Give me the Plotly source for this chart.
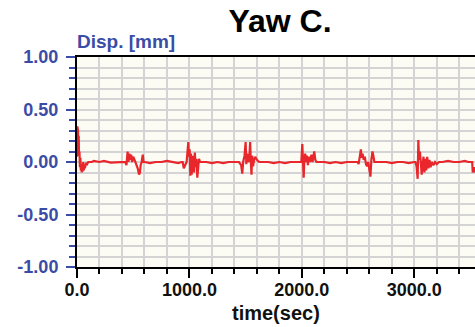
import plotly.graph_objects as go

# time (sec) and displacement (mm)
t = [0, 3, 6, 9, 12, 15, 18, 22, 26, 30, 34, 38, 42, 46, 50, 55, 60, 65, 70, 80, 90, 100, 130, 150,
     200, 240, 300, 360, 420,
     430, 440, 450, 458, 466, 474, 482, 490, 500, 512, 525, 540, 552, 560, 566, 575, 585, 592, 600,
     650, 700, 750, 800, 850, 900, 930,
     940, 950, 960, 975, 990, 996, 1002, 1008, 1014, 1020, 1026, 1032, 1040, 1048, 1055, 1062, 1070, 1078, 1085, 1095,
     1150, 1200, 1250, 1300, 1350, 1400,
     1440, 1460, 1470, 1478, 1490, 1500, 1506, 1514, 1522, 1532, 1540, 1546, 1552, 1558, 1566, 1575, 1585, 1600, 1620,
     1700, 1750, 1800, 1850, 1900, 1950, 1990,
     1995, 2004, 2010, 2016, 2022, 2030, 2038, 2046, 2054, 2062, 2072, 2085, 2095, 2110, 2120, 2130, 2145,
     2200, 2250, 2300, 2350, 2400, 2450, 2490,
     2495, 2505, 2515, 2525, 2532, 2540, 2550, 2560, 2570, 2580, 2590, 2600, 2610, 2618, 2628, 2636, 2645, 2660,
     2700, 2750, 2800, 2850, 2900, 2950, 3000,
     3010, 3020, 3030, 3036, 3042, 3050, 3058, 3066, 3074, 3082, 3090, 3098, 3106, 3115, 3125, 3135, 3145, 3155, 3170, 3185, 3200, 3220, 3250,
     3300, 3350, 3400, 3450, 3480, 3515, 3520, 3530, 3540]
disp = [0.05, 0.34, 0.22, 0.30, 0.12, 0.25, 0.06, 0.10, -0.05, 0.04, -0.08, -0.02, -0.10, -0.04, -0.09, 0.0, -0.08, -0.03, -0.06, -0.01, -0.02, 0.0, 0.0, 0.01,
        0.0, 0.01, -0.005, 0.0, 0.0,
        0.0, -0.03, 0.10, 0.0, 0.08, 0.02, 0.07, 0.0, 0.05, 0.02, -0.02, -0.06, -0.12, -0.10, -0.03, 0.0, 0.07, 0.0, 0.0,
        -0.01, 0.0, 0.0, 0.01, 0.0, -0.01, 0.0,
        0.0, -0.06, -0.03, 0.0, 0.19, 0.05, 0.12, -0.13, 0.08, -0.12, 0.02, 0.06, -0.10, 0.09, -0.05, 0.03, -0.15, -0.04, 0.03, 0.0,
        0.0, -0.01, 0.0, -0.01, 0.0, 0.0,
        0.0, -0.03, -0.11, 0.0, 0.06, 0.19, -0.02, 0.08, 0.0, 0.02, 0.19, 0.0, -0.12, 0.06, -0.04, 0.02, 0.05, 0.02, 0.0,
        0.0, -0.01, 0.0, -0.01, 0.0, 0.0, 0.0,
        0.0, 0.17, 0.0, -0.15, 0.02, 0.08, 0.0, 0.06, -0.03, 0.05, 0.0, 0.07, 0.0, 0.10, 0.02, 0.0, 0.0,
        0.0, -0.01, 0.0, -0.01, 0.0, 0.0, 0.0,
        0.0, -0.02, 0.06, 0.12, 0.04, 0.08, 0.02, 0.05, -0.02, -0.04, 0.0, -0.06, -0.14, 0.02, 0.10, 0.06, 0.0, 0.0,
        0.0, 0.0, -0.01, 0.0, 0.0, -0.01, 0.0,
        0.0, -0.04, -0.16, 0.21, 0.02, 0.10, -0.05, -0.12, -0.02, 0.05, -0.10, 0.03, -0.08, 0.05, -0.06, 0.02, -0.05, 0.0, -0.03, 0.0, -0.02, 0.0, 0.0,
        0.01, 0.0, 0.0, 0.01, 0.0, 0.0, -0.10, -0.05, -0.10]

x_ticks = [0, 1000, 2000, 3000]
x_labels = ["0.0", "1000.0", "2000.0", "3000.0"]
y_ticks = [-1.0, -0.5, 0.0, 0.5, 1.0]
y_labels = ["-1.00", "-0.50", "0.00", "0.50", "1.00"]

BLUE = "#3a4ca6"
GRID = "#d4d4d4"
FONT = "Liberation Sans, Arial, sans-serif"

fig = go.Figure()
fig.add_trace(go.Scatter(x=t, y=disp, mode="lines",
                         line=dict(color="#e8262b", width=2.2), showlegend=False))

fig.update_layout(
    width=475, height=327,
    margin=dict(l=77, r=0, t=57, b=60, autoexpand=False),
    paper_bgcolor="white", plot_bgcolor="#fcfcf4",
    font=dict(family=FONT),
    title=dict(text="<b>Yaw C.</b>", x=280/475, xanchor="center", xref="container",
               y=1 - 21/327, yanchor="middle", yref="container",
               font=dict(size=32, color="black", family=FONT)),
)
fig.update_xaxes(
    range=[0, 3540], tickvals=x_ticks, ticktext=x_labels, automargin=False,
    showline=True, linecolor="black", linewidth=2, mirror=True,
    ticks="outside", ticklen=9, tickwidth=2, tickcolor="black",
    tickfont=dict(size=18, color="#111111", family=FONT, weight="bold"),
    showgrid=True, gridcolor=GRID, gridwidth=2, zeroline=False,
    minor=dict(dtick=200, tick0=0, ticks="outside", ticklen=5, tickwidth=2,
               tickcolor="black", showgrid=True, gridcolor=GRID, gridwidth=2),
    ticklabelstandoff=-4,
)
fig.update_yaxes(
    range=[-1, 1], tickvals=y_ticks, ticktext=y_labels, automargin=False,
    showline=True, linecolor="black", linewidth=2,
    ticks="outside", ticklen=9, tickwidth=2, tickcolor=BLUE,
    tickfont=dict(size=18, color=BLUE, family=FONT, weight="bold"),
    showgrid=True, gridcolor=GRID, gridwidth=2, zeroline=False,
    minor=dict(dtick=0.1, tick0=0, ticks="outside", ticklen=6, tickwidth=2,
               tickcolor=BLUE, showgrid=True, gridcolor=GRID, gridwidth=2),
    ticklabelstandoff=4,
)
fig.add_annotation(text="<b>Disp. [mm]</b>", xref="paper", yref="paper",
                   x=0, xanchor="left", y=1, yanchor="bottom", yshift=3, xshift=-2,
                   showarrow=False, font=dict(size=19, color=BLUE, family=FONT))
fig.add_annotation(text="<b>time(sec)</b>", xref="paper", yref="paper",
                   x=(276 - 77) / (475 - 77), xanchor="center", y=0, yanchor="middle", yshift=-46,
                   showarrow=False, font=dict(size=20, color="#111111", family=FONT))
fig.write_html("out.html", config={"displayModeBar": False},
               post_script="document.body.style.margin='0';document.body.style.overflow='hidden';")
